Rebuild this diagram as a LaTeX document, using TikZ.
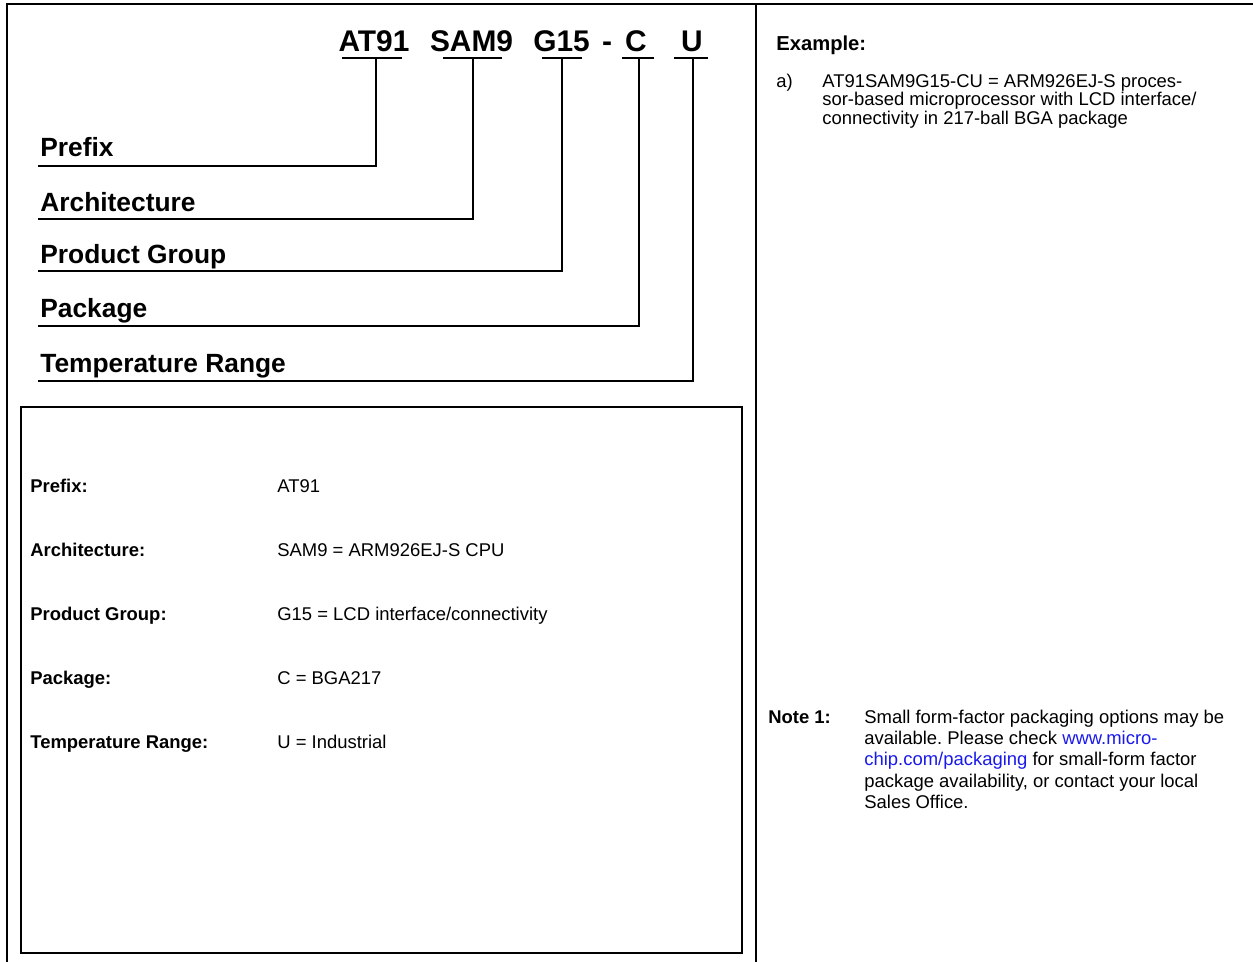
\documentclass[tikz,border=0pt]{standalone}
\usepackage{fontspec}
\setmainfont{Liberation Sans}
\usepackage{xcolor}
\usepackage{tikz}
\usetikzlibrary{positioning}

\definecolor{linkblue}{RGB}{25,25,235}
\frenchspacing

\tikzset{
    frame/.style={line width=1.4pt},
    lead/.style={line width=0.8pt},
    codepart/.style={font=\fontsize{17}{18}\selectfont\bfseries, anchor=base, inner sep=0pt},
    field/.style={font=\fontsize{15}{16}\selectfont\bfseries, anchor=base west, inner sep=0pt},
    keyname/.style={font=\fontsize{10.5}{12}\selectfont\bfseries, anchor=base west, inner sep=0pt},
    keyval/.style={font=\fontsize{10.5}{12}\selectfont, anchor=base west, inner sep=0pt},
    bodytext/.style={align=left, anchor=north west, inner sep=0pt}
}

\begin{document}
\begin{tikzpicture}[x=0.02cm, y=-0.02cm]

\useasboundingbox (0,0) rectangle (1253,962);

% Frame and divider
\draw[frame] (7,962) -- (7,4) -- (1253,4);
\draw[frame] (756,4) -- (756,962);

% Part number
\node[codepart] (cAT) at (374,52) {AT91};
\node[codepart] (cSAM) at (471.5,52) {SAM9};
\node[codepart] (cGrp) at (561.5,52) {G15};
\node[codepart] (cDash) at (607,52) {-};
\node[codepart] (cPkg) at (636,52) {C};
\node[codepart] (cTmp) at (692,52) {U};

% Underlines
\draw[lead] (342,58) -- (402,58);
\draw[lead] (443,58) -- (502,58);
\draw[lead] (542,58) -- (582,58);
\draw[lead] (622,58) -- (654,58);
\draw[lead] (674,58) -- (708,58);

\coordinate (tAT) at (376,58);
\coordinate (tSAM) at (473,58);
\coordinate (tGrp) at (562,58);
\coordinate (tPkg) at (639,58);
\coordinate (tTmp) at (693,58);

% Field names
\node[field] (fPrefix) at (40,157) {Prefix};
\node[field] (fArch) at (40,212) {Architecture};
\node[field] (fGroup) at (40,264) {Product Group};
\node[field] (fPack) at (40,318) {Package};
\node[field] (fTemp) at (40,373) {Temperature Range};

\coordinate (ePrefix) at (38,166);
\coordinate (eArch) at (38,219);
\coordinate (eGroup) at (38,271);
\coordinate (ePack) at (38,326);
\coordinate (eTemp) at (38,381);

% Leads
\draw[lead] (tAT) |- (ePrefix);
\draw[lead] (tSAM) |- (eArch);
\draw[lead] (tGrp) |- (eGroup);
\draw[lead] (tPkg) |- (ePack);
\draw[lead] (tTmp) |- (eTemp);

% Legend box
\draw[frame] (21,407) rectangle (742,953);

\node[keyname] (kPrefix) at (30,492) {Prefix:};
\node[keyval] (vPrefix) at (277,492) {AT91};
\node[keyname] (kArch) at (30,556) {Architecture:};
\node[keyval] (vArch) at (277,556) {SAM9 = ARM926EJ-S CPU};
\node[keyname] (kGroup) at (30,620) {Product Group:};
\node[keyval] (vGroup) at (277,620) {G15 = LCD interface/connectivity};
\node[keyname] (kPack) at (30,684) {Package:};
\node[keyval] (vPack) at (277,684) {C = BGA217};
\node[keyname] (kTemp) at (30,748) {Temperature Range:};
\node[keyval] (vTemp) at (277,748) {U = Industrial};

% Example
\node[font=\fontsize{11.5}{13}\selectfont\bfseries, anchor=base west, inner sep=0pt] (exHead) at (776,51) {Example:};
\node[keyval] (exItem) at (776,88) {a)};
\node[bodytext, font=\fontsize{10.5}{10.4}\selectfont] (exText) at (822,74.5)
    {AT91SAM9G15-CU = ARM926EJ-S proces-\\
     sor-based microprocessor with LCD interface/\\
     connectivity in 217-ball BGA package};

% Note
\node[keyname] (noteHead) at (768,723) {Note 1:};
\node[bodytext, font=\fontsize{10.5}{12.1}\selectfont] (noteText) at (864,709.5)
    {Small form-factor packaging options may be\\
     available. Please check \textcolor{linkblue}{www.micro-}\\
     \textcolor{linkblue}{chip.com/packaging} for small-form factor\\
     package availability, or contact your local\\
     Sales Office.};

\end{tikzpicture}
\end{document}
